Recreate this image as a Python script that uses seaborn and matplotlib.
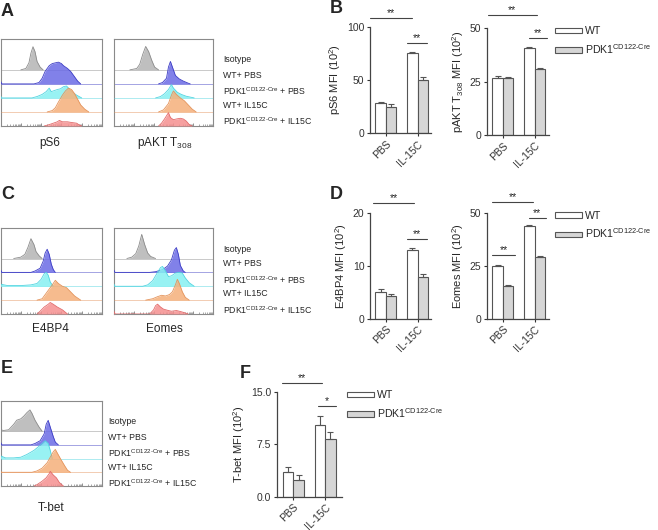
import matplotlib
matplotlib.use("Agg")
import matplotlib.pyplot as plt
import matplotlib.patches as mpatches
import numpy as np
import pandas as pd
import seaborn as sns

# ---- bar chart data (MFI, x10^2) ----
treatments = ["PBS", "IL-15C"]
genotypes = ["WT", "PDK1"]

ps6_wt, ps6_wt_err = [28, 75], [1.5, 1.5]
ps6_ko, ps6_ko_err = [25, 50], [2.5, 2.5]
pakt_wt, pakt_wt_err = [26.9, 40.6], [0.6, 0.6]
pakt_ko, pakt_ko_err = [26.9, 30.8], [0.5, 0.8]
e4bp4_wt, e4bp4_wt_err = [5.0, 13.0], [0.6, 0.3]
e4bp4_ko, e4bp4_ko_err = [4.3, 7.9], [0.3, 0.5]
eomes_wt, eomes_wt_err = [25.0, 43.9], [0.5, 0.3]
eomes_ko, eomes_ko_err = [15.4, 28.9], [0.3, 0.5]
tbet_wt, tbet_wt_err = [3.5, 10.3], [0.7, 1.2]
tbet_ko, tbet_ko_err = [2.4, 8.3], [0.7, 1.0]

# ---- flow histograms: x in % of axis width, h in lane units ----
# order: Isotype, WT+PBS, PDK1+PBS, WT+IL15C, PDK1+IL15C
ps6_x = [[20, 25, 28, 30, 32, 34, 36, 39, 42],
         [0, 1.3, 33, 38, 41, 44, 48, 51, 54, 57, 60, 62, 66, 69, 72, 76, 79],
         [0, 1, 31, 36, 41, 45, 48, 50, 52, 56, 59, 62, 65, 67, 70, 75, 80],
         [46, 51, 54, 57, 61, 64, 67, 70, 73, 76, 79, 83, 87],
         [43, 48, 52, 56, 58, 61, 66, 70, 75, 77, 80]]
ps6_h = [[0, 0.1, 0.5, 1.2, 1.65, 1.3, 0.6, 0.2, 0],
         [0.2, 0, 0, 0.1, 0.4, 0.9, 1.3, 1.45, 1.5, 1.55, 1.45, 1.3, 1.1, 0.9, 0.6, 0.2, 0],
         [0.15, 0, 0, 0.1, 0.25, 0.45, 0.7, 0.45, 0.5, 0.6, 0.65, 0.8, 0.85, 0.7, 0.45, 0.2, 0],
         [0, 0.1, 0.3, 0.7, 1.2, 1.5, 1.7, 1.6, 1.3, 0.9, 0.5, 0.2, 0],
         [0, 0.1, 0.2, 0.3, 0.4, 0.3, 0.3, 0.25, 0.2, 0.1, 0]]

pakt_x = [[16, 23, 26, 29, 32, 35, 38, 41, 45],
          [45, 49, 53, 55, 57, 59, 62, 66, 70, 75, 77],
          [42, 47, 51, 55, 58, 60, 64, 68, 73, 81],
          [45, 50, 55, 58, 60, 63, 67, 71, 75, 79, 83],
          [45, 48, 51, 55, 57, 60, 63, 67, 70, 73, 76, 79]]
pakt_h = [[0, 0.1, 0.4, 1.1, 1.67, 1.3, 0.7, 0.2, 0],
          [0, 0.1, 0.4, 1.2, 1.6, 1.2, 0.6, 0.35, 0.2, 0.05, 0],
          [0, 0.1, 0.3, 0.6, 0.95, 0.7, 0.4, 0.25, 0.12, 0],
          [0, 0.15, 0.6, 1.2, 1.5, 1.25, 1.0, 0.8, 0.5, 0.2, 0],
          [0, 0.2, 0.5, 0.95, 0.6, 0.45, 0.5, 0.55, 0.5, 0.35, 0.1, 0]]

e4bp4_x = [[13, 20, 24, 27, 30, 33, 35, 38, 41],
           [0, 1.3, 30, 34, 39, 42, 44, 46, 48, 50, 52, 54],
           [0, 7, 20, 30, 36, 40, 43, 45, 47, 49, 52],
           [36, 41, 44, 48, 51, 54, 57, 61, 65, 69, 73, 79],
           [36, 39, 43, 47, 49, 52, 56, 61, 66]]
e4bp4_h = [[0, 0.1, 0.3, 0.8, 1.43, 1.0, 0.5, 0.2, 0],
           [0.2, 0, 0, 0.1, 0.3, 0.8, 1.4, 1.67, 1.3, 0.6, 0.2, 0],
           [0.15, 0.05, 0.05, 0.1, 0.2, 0.5, 0.9, 1.0, 0.8, 0.3, 0],
           [0, 0.1, 0.4, 0.8, 1.1, 1.43, 1.2, 1.0, 0.9, 0.6, 0.3, 0],
           [0, 0.2, 0.5, 0.7, 0.83, 0.7, 0.5, 0.3, 0]]

eomes_x = [[13, 18, 22, 25, 28, 31, 34, 37, 42],
           [0, 1, 36, 42, 49, 54, 58, 61, 63, 65, 67, 70, 72],
           [0, 1, 29, 34, 39, 44, 47, 49, 52, 55, 58, 62, 66, 69, 72, 76, 81],
           [32, 39, 44, 48, 52, 56, 59, 62, 64, 66, 69, 72, 76],
           [0, 1, 36, 40, 42, 44, 47, 50, 55, 58, 63, 66, 71, 75]]
eomes_h = [[0, 0.1, 0.35, 0.9, 1.74, 1.0, 0.4, 0.15, 0],
           [0.15, 0, 0, 0.05, 0.2, 0.45, 0.9, 1.6, 1.79, 1.3, 0.5, 0.1, 0],
           [0.15, 0, 0, 0.1, 0.4, 1.0, 1.35, 1.43, 1.1, 0.7, 0.75, 0.95, 1.0, 0.95, 0.6, 0.25, 0],
           [0, 0.1, 0.25, 0.35, 0.3, 0.4, 0.6, 1.1, 1.5, 1.2, 0.6, 0.2, 0],
           [0.2, 0, 0, 0.3, 0.6, 0.71, 0.5, 0.35, 0.25, 0.2, 0.25, 0.2, 0.1, 0]]

tbet_x = [[0, 3, 8, 13, 16, 20, 23, 26, 29, 31, 34, 38, 41],
          [0, 1.3, 30, 34, 39, 43, 45, 47, 49, 52, 54, 57],
          [0, 5, 13, 20, 26, 33, 38, 41, 44, 47, 49, 51],
          [0, 1, 31, 36, 41, 46, 49, 52, 54, 56, 59, 63, 66, 69],
          [33, 36, 41, 45, 48, 49, 52, 55, 58, 62]]
tbet_h = [[0.1, 0.05, 0.1, 0.5, 0.8, 0.9, 1.1, 1.35, 1.55, 1.3, 0.8, 0.3, 0],
          [0.2, 0, 0, 0.1, 0.3, 0.8, 1.5, 1.79, 1.3, 0.6, 0.2, 0],
          [0.2, 0.05, 0.05, 0.1, 0.3, 0.6, 0.9, 1.1, 1.3, 1.1, 0.6, 0],
          [0.1, 0, 0, 0.1, 0.3, 0.7, 1.1, 1.5, 1.67, 1.4, 1.0, 0.5, 0.15, 0],
          [0, 0.1, 0.35, 0.6, 0.9, 1.07, 0.8, 0.6, 0.25, 0]]

sup = r"$^{\rm CD122‐Cre}$"
lane_labels = ["Isotype", "WT+ PBS", "PDK1" + sup + " + PBS", "WT+ IL15C",
               "PDK1" + sup + " + IL15C"]
fills = ["#b4b4b4", "#6b6be6", "#86f0f2", "#f5b07a", "#f59090"]
edges = ["#8c8c8c", "#3d3dc4", "#52d4e0", "#e4945c", "#e26a6a"]

sns.set_style("ticks")
plt.rcParams["font.family"] = ["Liberation Sans", "DejaVu Sans"]
plt.rcParams["mathtext.fontset"] = "custom"
plt.rcParams["mathtext.rm"] = "Liberation Sans"
plt.rcParams["mathtext.it"] = "Liberation Sans:italic"

W, H = 658, 530
fig = plt.figure(figsize=(W / 100, H / 100), dpi=100)


def px_axes(x0, y0, x1, y1):
    return fig.add_axes([x0 / W, 1 - y1 / H, (x1 - x0) / W, (y1 - y0) / H])


def histo(box, xs, hs):
    ax = px_axes(*box)
    for i, (x, h) in enumerate(zip(xs, hs)):
        base = 4 - i
        top = base + np.array(h)
        ax.axhline(base, color=edges[i], lw=0.6, alpha=0.55, zorder=2 * i)
        ax.fill_between(x, base, top, color=fills[i], alpha=0.85, lw=0, zorder=2 * i + 1)
        ax.plot(x, top, color=edges[i], lw=0.6, zorder=2 * i + 1)
    ax.set_xlim(0, 100)
    ax.set_ylim(0, 6.2)
    ax.set_yticks([])
    ax.set_xticks([20 * d for d in range(6)])
    ax.set_xticks([20 * (d + np.log10(k)) for d in range(5) for k in range(2, 10)], minor=True)
    ax.set_xticklabels([])
    ax.tick_params(axis="x", which="major", direction="in", length=2.5, width=0.5, color="#666")
    ax.tick_params(axis="x", which="minor", direction="in", length=1.3, width=0.4, color="#666")
    for s in ax.spines.values():
        s.set_color("#8a8a8a")
        s.set_linewidth(0.8)
    return ax


def lane_text(x, ys):
    for lab, y in zip(lane_labels, ys):
        fig.text(x / W, 1 - y / H, lab, fontsize=6.3, va="center", ha="left")


def bars(box, wt, wt_err, ko, ko_err, ylim, yticks, ylabel, xlim, fmt="%g"):
    ax = px_axes(*box)
    df = pd.DataFrame({
        "treat": treatments * 2,
        "geno": [genotypes[0]] * 2 + [genotypes[1]] * 2,
        "mfi": wt + ko,
    })
    sns.barplot(data=df, x="treat", y="mfi", hue="geno", palette=["white", "#d6d6d6"],
                edgecolor="#555555", linewidth=0.8, width=0.66, gap=0,
                errorbar=None, legend=False, ax=ax)
    for cont, errs in zip(ax.containers, [wt_err, ko_err]):
        for bar, e in zip(cont.patches, errs):
            cx = bar.get_x() + bar.get_width() / 2
            ax.errorbar(cx, bar.get_height(), yerr=[[0], [e]], color="#555555",
                        lw=0.8, capsize=2, capthick=0.8)
    ax.set_xlim(*xlim)
    ax.set_ylim(*ylim)
    ax.set_yticks(yticks)
    ax.set_yticklabels([fmt % t for t in yticks])
    ax.set_xlabel("")
    ax.set_ylabel(ylabel, fontsize=8, labelpad=3)
    ax.set_xticks([0, 1])
    ax.set_xticklabels(treatments, rotation=45, ha="right", rotation_mode="anchor")
    ax.tick_params(labelsize=7.5, length=2.5, width=0.8, colors="#333", pad=1.5)
    sns.despine(ax=ax)
    for s in ("left", "bottom"):
        ax.spines[s].set_color("#444")
        ax.spines[s].set_linewidth(0.9)
    return ax


def sig(ax, x0, x1, y, txt):
    ax.plot([x0, x1], [y, y], color="#444", lw=0.8, clip_on=False)
    ax.text((x0 + x1) / 2, y, txt, ha="center", va="bottom", fontsize=7.5, clip_on=False)


def legend(x, y):
    handles = [mpatches.Patch(facecolor="white", edgecolor="#555", lw=0.8),
               mpatches.Patch(facecolor="#d6d6d6", edgecolor="#555", lw=0.8)]
    fig.legend(handles, ["WT", "PDK1" + sup], loc="center left",
               bbox_to_anchor=(x / W, 1 - y / H), frameon=False, fontsize=7.6,
               handlelength=2.6, handleheight=0.45, handletextpad=0.2,
               labelspacing=0.55, borderpad=0, borderaxespad=0)


# ---- A ----
histo((0.5, 39, 102, 126), ps6_x, ps6_h)
histo((114, 39, 213, 126), pakt_x, pakt_h)
lane_text(223, [60, 75, 91, 105, 121])
fig.text(50 / W, 1 - 143 / H, "pS6", fontsize=8.5, ha="center", va="center")
fig.text(165 / W, 1 - 143 / H, r"pAKT T$_{308}$", fontsize=8.5, ha="center", va="center")

# ---- B ----
ax = bars((370, 26.7, 431, 133.3), ps6_wt, ps6_wt_err, ps6_ko, ps6_ko_err,
          (0, 100), [0, 50, 100], r"pS6 MFI (10$^2$)", (-0.5, 1.42))
sig(ax, -0.5, 0.82, 108, "**")
sig(ax, 0.67, 1.3, 84.7, "**")
ax = bars((487, 28.3, 549, 135), pakt_wt, pakt_wt_err, pakt_ko, pakt_ko_err,
          (0, 50), [0, 25, 50], r"pAKT T$_{308}$ MFI (10$^2$)", (-0.5, 1.45))
sig(ax, -0.47, 1.06, 56.2, "**")
sig(ax, 0.81, 1.38, 45.5, "**")
legend(555, 41)

# ---- C ----
histo((0.5, 228, 102, 314), e4bp4_x, e4bp4_h)
histo((114, 228, 213, 314), eomes_x, eomes_h)
lane_text(223, [249, 264, 280, 294, 310])
fig.text(50 / W, 1 - 329 / H, "E4BP4", fontsize=8.5, ha="center", va="center")
fig.text(164 / W, 1 - 329 / H, "Eomes", fontsize=8.5, ha="center", va="center")

# ---- D ----
ax = bars((370, 212.7, 431, 318.7), e4bp4_wt, e4bp4_wt_err, e4bp4_ko, e4bp4_ko_err,
          (0, 20), [0, 10, 20], r"E4BP4 MFI (10$^2$)", (-0.5, 1.42))
sig(ax, -0.39, 0.87, 21.8, "**")
sig(ax, 0.68, 1.28, 15.0, "**")
ax = bars((487, 212.7, 549, 318.7), eomes_wt, eomes_wt_err, eomes_ko, eomes_ko_err,
          (0, 50), [0, 25, 50], r"Eomes MFI (10$^2$)", (-0.5, 1.45))
sig(ax, -0.34, 0.94, 55.0, "**")
sig(ax, -0.34, 0.38, 30.0, "**")
sig(ax, 0.81, 1.34, 47.5, "**")
legend(555, 225.5)

# ---- E ----
histo((0.5, 401, 102, 486), tbet_x, tbet_h)
lane_text(108, [422, 437, 453, 467, 483])
fig.text(51 / W, 1 - 508 / H, "T-bet", fontsize=8.5, ha="center", va="center")

# ---- F ----
ax = bars((276.7, 391.7, 341.7, 496.7), tbet_wt, tbet_wt_err, tbet_ko, tbet_ko_err,
          (0, 15), [0, 7.5, 15], r"T-bet MFI (10$^2$)", (-0.52, 1.52), fmt="%.1f")
sig(ax, -0.36, 0.9, 16.2, "**")
sig(ax, 0.78, 1.35, 12.9, "*")
legend(347, 405)

# ---- panel letters ----
for lab, x, y in [("A", 1, 3), ("B", 330, 0), ("C", 1, 186), ("D", 330, 186),
                  ("E", 1, 360), ("F", 240, 365)]:
    fig.text(x / W, 1 - y / H, lab, fontsize=13, fontweight="bold", va="top", ha="left")

fig.savefig("out.png", dpi=100)
